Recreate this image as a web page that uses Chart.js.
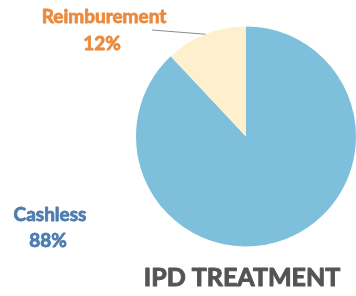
<!DOCTYPE html>
<html>
<head>
<meta charset="utf-8">
<script src="https://cdn.jsdelivr.net/npm/chart.js@4/dist/chart.umd.min.js"></script>
<style>
  html, body { margin: 0; padding: 0; background: #fff; }
  #wrap { width: 356px; height: 296px; }
</style>
</head>
<body>
<div id="wrap"><canvas id="ipdChart" width="356" height="296"></canvas></div>
<script>
  // IPD treatment split
  var categories = ['Cashless', 'Reimburement'];
  var shares = [88, 12];
  var sliceColors = ['#7ec0dc', '#fef0cc'];
  var labelColors = ['#4d7cb2', '#eb8a3c'];
  var chartTitle = 'IPD TREATMENT';

  // heavy text: fill plus a thin stroke in the same colour
  function boldText(ctx, txt, x, y, color, w) {
    ctx.fillStyle = color;
    ctx.strokeStyle = color;
    ctx.lineWidth = w;
    ctx.lineJoin = 'round';
    ctx.strokeText(txt, x, y);
    ctx.fillText(txt, x, y);
  }

  // labels, leader line and title
  var calloutPlugin = {
    id: 'callouts',
    afterDraw: function(chart) {
      var ctx = chart.ctx;
      var arcs = chart.getDatasetMeta(0).data;
      ctx.save();
      ctx.textAlign = 'center';
      ctx.textBaseline = 'middle';

      // Reimburement leader line
      var a = arcs[1];
      var mid = (a.startAngle + a.endAngle) / 2;
      var ex = a.x + Math.cos(mid) * a.outerRadius;
      var ey = a.y + Math.sin(mid) * a.outerRadius;
      ctx.strokeStyle = '#8c8c8c';
      ctx.lineWidth = 1;
      ctx.beginPath();
      ctx.moveTo(152, 30);
      ctx.lineTo(ex, ey);
      ctx.stroke();

      ctx.font = "bold 19px Lato, sans-serif";
      boldText(ctx, categories[1], 104, 17, labelColors[1], 0.8);
      boldText(ctx, shares[1] + '%', 102, 44, labelColors[1], 0.8);

      boldText(ctx, categories[0], 50, 215, labelColors[0], 0.8);
      boldText(ctx, shares[0] + '%', 48, 241, labelColors[0], 0.8);

      ctx.font = "bold 25px Lato, sans-serif";
      boldText(ctx, chartTitle, 242, 278, '#545454', 1);
      ctx.restore();
    }
  };

  new Chart(document.getElementById('ipdChart').getContext('2d'), {
    type: 'pie',
    data: {
      labels: categories,
      datasets: [{
        data: shares,
        backgroundColor: sliceColors,
        borderWidth: 0
      }]
    },
    options: {
      responsive: false,
      animation: false,
      layout: { padding: { left: 136, right: 0, top: 26, bottom: 49 } },
      plugins: {
        legend: { display: false },
        tooltip: { enabled: false }
      }
    },
    plugins: [calloutPlugin]
  });
</script>
</body>
</html>
